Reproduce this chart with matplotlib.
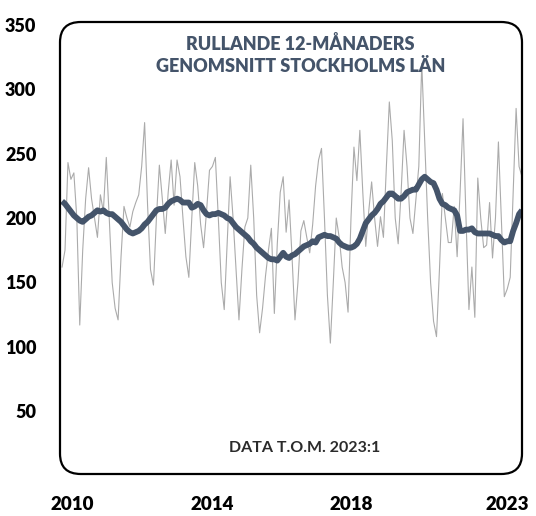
import matplotlib
matplotlib.use("Agg")
from matplotlib import pyplot as plt
from matplotlib.patches import FancyBboxPatch

# monthly values 2010:1 - 2023:1
monthly = [
    162, 175, 243, 230, 235, 200, 117, 175, 215, 239, 215, 200,   # 2010
    185, 218, 205, 247, 200, 150, 130, 121, 170, 209, 200, 193,   # 2011
    205, 212, 218, 240, 274, 210, 160, 148, 200, 241, 215, 188,   # 2012
    220, 245, 210, 245, 232, 200, 170, 154, 200, 243, 225, 195,   # 2013
    177, 205, 237, 240, 247, 200, 150, 129, 180, 232, 200, 160,   # 2014
    121, 160, 193, 200, 241, 200, 140, 111, 130, 155, 175, 192,   # 2015
    126, 180, 220, 232, 189, 214, 170, 121, 150, 190, 198, 185,   # 2016
    173, 195, 225, 245, 254, 200, 140, 103, 150, 200, 185, 162,   # 2017
    150, 127, 200, 255, 229, 268, 220, 178, 205, 228, 200, 178,   # 2018
    201, 185, 240, 290, 260, 200, 180, 220, 268, 240, 200, 188,   # 2019
    214, 240, 320, 260, 200, 150, 120, 108, 160, 219, 200, 181,   # 2020
    181, 209, 170, 220, 277, 200, 129, 162, 123, 231, 200, 177,   # 2021
    179, 212, 169, 200, 259, 200, 139, 145, 154, 220, 285, 240,   # 2022
    232,                                                          # 2023
]

rolling = [
    213, 211, 208, 205, 202, 200, 198, 197, 199, 201, 202, 204,
    206, 205, 206, 204, 203, 203, 201, 199, 197, 194, 191, 189,
    188, 189, 190, 192, 195, 197, 200, 203, 206, 207, 207, 208,
    211, 213, 214, 215, 214, 212, 212, 212, 208, 209, 211, 210,
    206, 203, 202, 203, 203, 204, 203, 202, 200, 199, 196, 193,
    191, 189, 187, 185, 182, 180, 177, 175, 173, 171, 169, 168,
    168, 167, 170, 173, 170, 169, 171, 172, 174, 176, 178, 179,
    180, 182, 181, 185, 186, 187, 186, 186, 185, 184, 181, 179,
    178, 177, 177, 178, 180, 184, 190, 196, 199, 202, 204, 207,
    211, 213, 216, 219, 219, 217, 215, 215, 217, 220, 221, 222,
    222, 226, 230, 232, 230, 228, 227, 222, 215, 211, 210, 208,
    207, 206, 202, 190, 190, 191, 191, 192, 189, 188, 188, 188,
    188, 188, 187, 186, 186, 183, 181, 182, 182, 190, 196, 203,
    206,
]

year_labels = ["2010", "2014", "2018", "2023"]
year_pos = [3.4, 51, 98, 151]
y_ticks = [50, 100, 150, 200, 250, 300, 350]

fig = plt.figure(figsize=(5.36, 5.16), dpi=100)
ax = fig.add_axes([60 / 536, 42 / 516, 462 / 536, 452 / 516])

months = range(len(monthly))
ax.plot(months, monthly, color="#ABABAB", lw=0.8)
ax.plot(range(len(rolling)), rolling, color="#44546A", lw=4.2,
        solid_joinstyle="round", solid_capstyle="butt")

ax.set_xlim(-0.7, 156)
ax.set_ylim(1.5, 352)
for s in ax.spines.values():
    s.set_visible(False)

frame = FancyBboxPatch((0, 0), 1, 1, boxstyle="round,pad=0,rounding_size=0.045",
                       transform=ax.transAxes, fill=False, ec="black", lw=1.6,
                       clip_on=False, zorder=5)
ax.add_patch(frame)

ax.set_yticks(y_ticks)
ax.set_yticklabels([str(v) for v in y_ticks], fontsize=13, fontweight="heavy",
                   family="Lato")
ax.set_xticks(year_pos)
ax.set_xticklabels(year_labels, fontsize=13.5, fontweight="heavy", family="Lato")
ax.tick_params(axis="y", length=0, pad=17)
ax.tick_params(axis="x", length=0, pad=16)

ax.text(0.52, 0.972, "RULLANDE 12-MÅNADERS\nGENOMSNITT STOCKHOLMS LÄN",
        transform=ax.transAxes, ha="center", va="top", fontsize=13,
        fontweight="heavy", color="#44546A", family="Lato", linespacing=1.35)
ax.text(0.53, 0.058, "DATA T.O.M. 2023:1", transform=ax.transAxes,
        ha="center", va="center", fontsize=11.5, color="#2B2B2B",
        family="Lato", fontweight="bold")

fig.savefig("out.png", dpi=100)
